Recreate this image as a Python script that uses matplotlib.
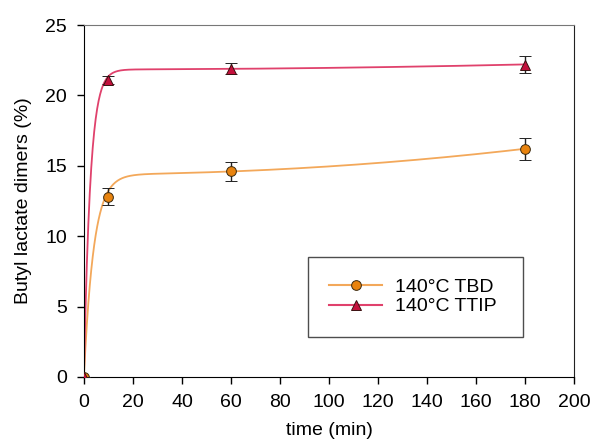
import numpy as np
from matplotlib import pyplot as plt

plt.rcParams['font.family'] = ['Liberation Sans', 'DejaVu Sans']

# measured points
time = [0, 10, 60, 180]
tbd = [0, 12.8, 14.6, 16.2]
tbd_err = [0, 0.6, 0.7, 0.8]
ttip = [0, 21.1, 21.9, 22.2]
ttip_err = [0, 0.25, 0.4, 0.6]

# fitted curve parameters y = a*(1-exp(-k t)) + c*t^2
tbd_fit = (14.4, 0.25, 5.6e-5)
ttip_fit = (21.85, 0.38, 1.1e-5)

labels = ["140°C TBD", "140°C TTIP"]

fig = plt.figure(figsize=(5.95, 4.48), dpi=100)
ax = fig.add_axes([0.141, 0.1585, 0.824, 0.7855])

t = np.linspace(0, 180, 600)
a, k, c = tbd_fit
ax.plot(t, a * (1 - np.exp(-k * t)) + c * t ** 2, color="#f3a85a", lw=1.3, zorder=2)
a, k, c = ttip_fit
ax.plot(t, a * (1 - np.exp(-k * t)) + c * t ** 2, color="#e0416c", lw=1.3, zorder=2)

ax.errorbar(time, tbd, yerr=tbd_err, fmt="o", color="#e8830e", mec="#3a2a10",
            mew=0.7, ms=7, ecolor="#222222", elinewidth=1, capsize=4, zorder=3)
ax.errorbar(time, ttip, yerr=ttip_err, fmt="^", color="#c4103c", mec="#3a1010",
            mew=0.7, ms=7, ecolor="#222222", elinewidth=1, capsize=4, zorder=4)

# legend handles
h1, = ax.plot([], [], color="#f3a85a", marker="o", mfc="#e8830e", mec="#3a2a10", ms=7, mew=0.7)
h2, = ax.plot([], [], color="#e0416c", marker="^", mfc="#c4103c", mec="#3a1010", ms=7, mew=0.7)
leg = ax.legend([h1, h2], labels, loc="lower left", bbox_to_anchor=(0.457, 0.114, 0.439, 0.233),
                mode="expand", borderaxespad=0, fontsize=14, frameon=True, fancybox=False,
                borderpad=1.1, handlelength=2.7, labelspacing=0.1, handletextpad=0.7)
leg.get_frame().set_edgecolor("#222222")
leg.get_frame().set_linewidth(1.0)

ax.set_xlim(0, 200)
ax.set_ylim(0, 25)
ax.set_xticks(range(0, 201, 20))
ax.set_yticks(range(0, 26, 5))
ax.tick_params(direction="out", length=5, labelsize=14, width=1, pad=7)
ax.spines["top"].set_color("#777777")
ax.spines["right"].set_color("#222222")
ax.set_xlabel("time (min)", fontsize=14, labelpad=8)
ax.set_ylabel("Butyl lactate dimers (%)", fontsize=14, labelpad=10)

fig.savefig("out.png", dpi=100)
